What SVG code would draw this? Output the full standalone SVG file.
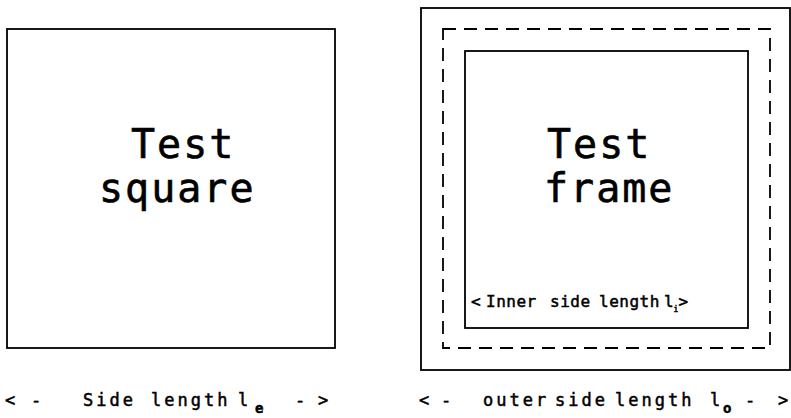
<svg xmlns="http://www.w3.org/2000/svg" width="791" height="418" viewBox="0 0 791 418">
<style>
  .box { fill: none; stroke: #000; stroke-width: 1.8; }
  .dash { fill: none; stroke: #000; stroke-width: 1.8; stroke-dasharray: 13 8; }
  .big { font-family: "DejaVu Sans Mono", "Liberation Mono", monospace; font-size: 40px; letter-spacing: 2px; fill: #000; stroke: #000; stroke-width: 0.6; }
  .lbl { font-family: "DejaVu Sans Mono", "Liberation Mono", monospace; font-size: 17px; letter-spacing: 3px; fill: #000; stroke: #000; stroke-width: 0.5; }
  .inl { font-family: "DejaVu Sans Mono", "Liberation Mono", monospace; font-size: 16px; letter-spacing: 0.5px; fill: #000; stroke: #000; stroke-width: 0.5; }
  .sub { font-size: 14px; font-weight: bold; letter-spacing: 0; }
  .subi { font-size: 8px; letter-spacing: 0; }
</style>
<rect width="791" height="418" fill="#fff"/>
<g id="test-square">
  <rect class="box" x="7" y="29" width="328" height="319"/>
  <text class="big" x="131" y="158">Test</text>
  <text class="big" x="99" y="202">square</text>
</g>
<g id="test-frame">
  <rect class="box" x="421" y="8" width="369" height="362"/>
  <rect class="dash" x="443" y="29" width="327" height="319"/>
  <rect class="box" x="465" y="51" width="283" height="277"/>
  <text class="big" x="547" y="158">Test</text>
  <text class="big" x="544" y="202">frame</text>
</g>
<g id="inner-label">
  <text class="inl" y="307"><tspan x="471">&lt;</tspan><tspan x="486">Inner</tspan><tspan x="550">side</tspan><tspan x="599">length</tspan><tspan x="664">l</tspan><tspan class="subi" x="673.4" dy="5">i</tspan><tspan x="678.4" dy="-5">&gt;</tspan></text>
</g>
<g id="side-label">
  <text class="lbl" y="406"><tspan x="5">&lt;</tspan><tspan x="31">-</tspan><tspan x="83">Side</tspan><tspan x="151">length</tspan><tspan x="238">l</tspan><tspan class="sub" x="255" dy="7">e</tspan><tspan x="295" dy="-7">-</tspan><tspan x="318">&gt;</tspan></text>
</g>
<g id="outer-label">
  <text class="lbl" y="406"><tspan x="419">&lt;</tspan><tspan x="441">-</tspan><tspan x="483">outer</tspan><tspan x="555">side</tspan><tspan x="615">length</tspan><tspan x="710">l</tspan><tspan class="sub" x="723" dy="7">o</tspan><tspan x="745" dy="-7">-</tspan><tspan x="778">&gt;</tspan></text>
</g>
</svg>
